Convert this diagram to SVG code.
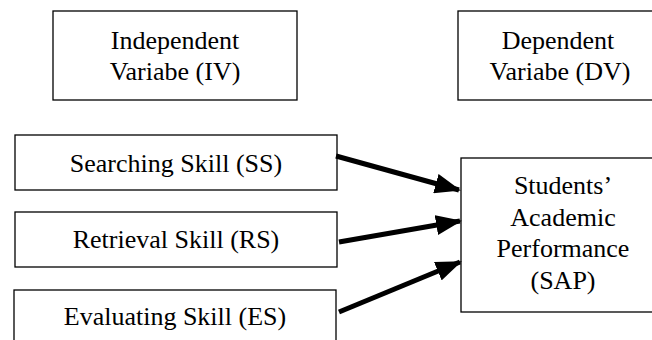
<svg xmlns="http://www.w3.org/2000/svg" width="652" height="340" viewBox="0 0 652 340">
<style>
.box{fill:#fff;stroke:#000;stroke-width:1.3}
.t{font-family:"Liberation Serif","Times New Roman",serif;font-size:26px;fill:#000;text-anchor:middle}
.arr{stroke:#000;stroke-width:5;fill:none;marker-end:url(#ah)}
</style>
<defs>
<marker id="ah" markerUnits="userSpaceOnUse" markerWidth="26" markerHeight="20" refX="24" refY="10" orient="auto">
<path d="M0,0 L26,10 L0,20 Z" fill="#000"/>
</marker>
</defs>
<rect width="652" height="340" fill="#fff"/>
<g id="iv">
<rect class="box" x="53" y="11" width="244" height="89"/>
<text class="t" x="175" y="49">Independent</text>
<text class="t" x="175" y="80">Variabe (IV)</text>
</g>
<g id="dv">
<rect class="box" x="458" y="11" width="200" height="89"/>
<text class="t" x="558" y="49">Dependent</text>
<text class="t" x="560" y="80">Variabe (DV)</text>
</g>
<g id="ss">
<rect class="box" x="15" y="135" width="322" height="55"/>
<text class="t" x="176" y="172">Searching Skill (SS)</text>
</g>
<g id="rs">
<rect class="box" x="15" y="212" width="322" height="55"/>
<text class="t" x="176" y="248">Retrieval Skill (RS)</text>
</g>
<g id="es">
<rect class="box" x="14" y="290" width="322" height="60"/>
<text class="t" x="175" y="325">Evaluating Skill (ES)</text>
</g>
<g id="sap">
<rect class="box" x="461" y="158" width="200" height="154"/>
<text class="t" x="563" y="194">Students’</text>
<text class="t" x="563" y="226">Academic</text>
<text class="t" x="563" y="257">Performance</text>
<text class="t" x="563" y="289">(SAP)</text>
</g>
<g id="connectors">
<line class="arr" x1="336" y1="156" x2="459" y2="190"/>
<line class="arr" x1="339" y1="242" x2="460" y2="221"/>
<line class="arr" x1="339" y1="312" x2="460" y2="262"/>
</g>
</svg>
